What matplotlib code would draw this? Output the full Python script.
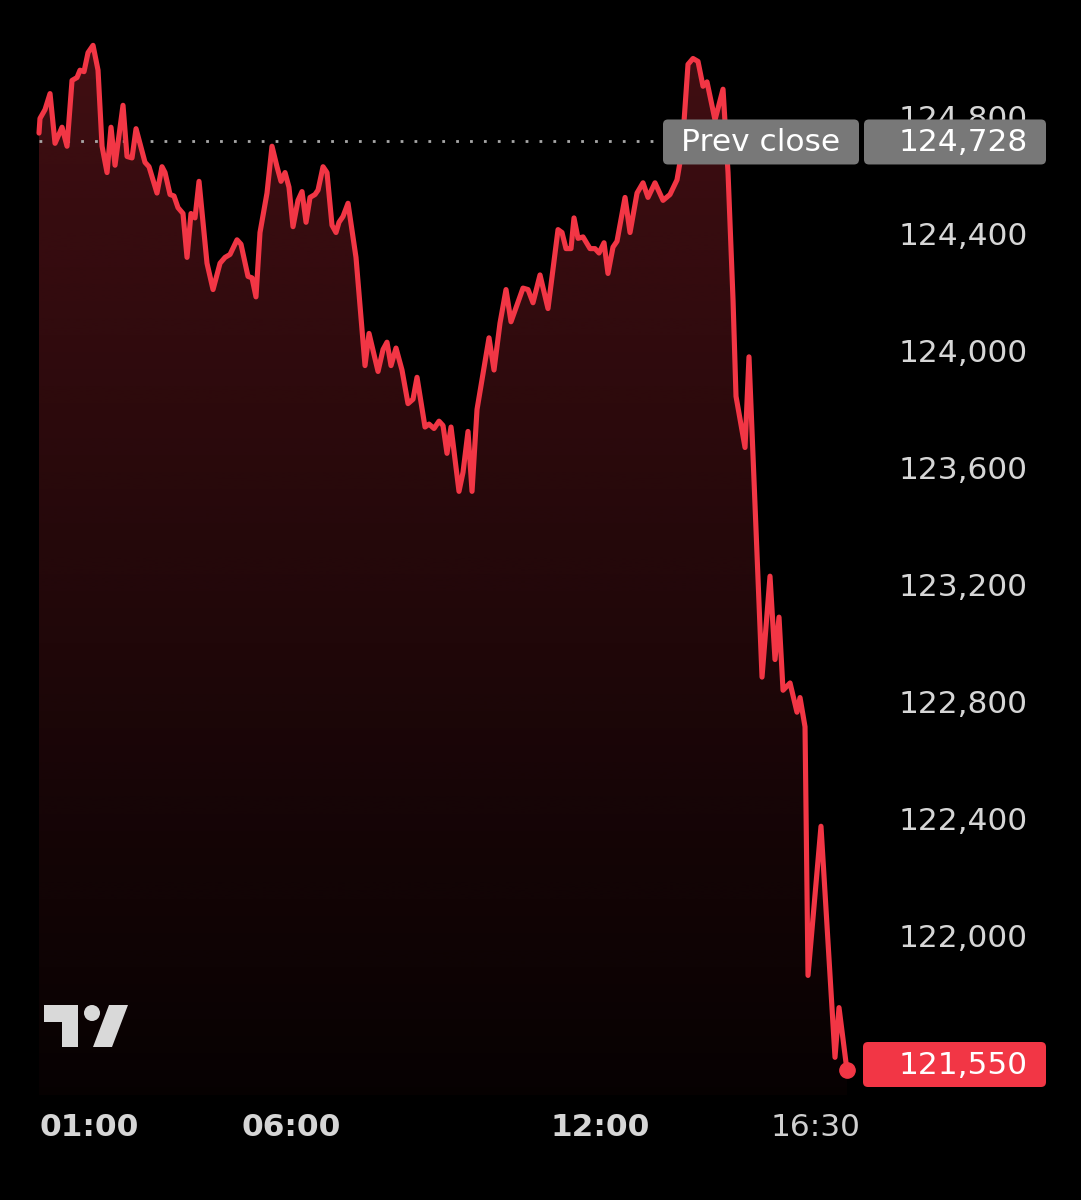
import numpy as np
import matplotlib.pyplot as plt
from matplotlib.patches import FancyBboxPatch, Polygon, Circle
from matplotlib.transforms import ScaledTranslation, blended_transform_factory

# intraday series (time in hours, price)
hours = [1.107, 1.126, 1.223, 1.321, 1.418, 1.554, 1.651, 1.748, 1.845, 1.903,
         1.981, 2.059, 2.156, 2.253, 2.331, 2.428, 2.505, 2.583, 2.738, 2.816,
         2.913, 2.991, 3.165, 3.243, 3.398, 3.495, 3.554, 3.651, 3.728, 3.806,
         3.903, 3.981, 4.058, 4.136, 4.214, 4.369, 4.486, 4.622, 4.719, 4.816,
         4.952, 5.029, 5.165, 5.243, 5.320, 5.398, 5.534, 5.631, 5.728, 5.806,
         5.884, 5.961, 6.039, 6.136, 6.214, 6.292, 6.369, 6.466, 6.525, 6.622,
         6.699, 6.796, 6.874, 6.932, 7.010, 7.107, 7.262, 7.437, 7.515, 7.690,
         7.787, 7.864, 7.942, 8.039, 8.155, 8.272, 8.369, 8.447, 8.602, 8.680,
         8.777, 8.874, 8.952, 9.029, 9.107, 9.262, 9.340, 9.437, 9.515, 9.612,
         9.845, 9.942, 10.058, 10.175, 10.272, 10.505, 10.602, 10.699, 10.835, 10.990,
         11.185, 11.262, 11.340, 11.437, 11.495, 11.573, 11.670, 11.806, 11.903, 11.981,
         12.078, 12.155, 12.252, 12.330, 12.486, 12.583, 12.719, 12.835, 12.932, 13.068,
         13.224, 13.359, 13.495, 13.592, 13.709, 13.806, 13.903, 14.000, 14.078, 14.233,
         14.389, 14.486, 14.583, 14.641, 14.816, 14.893, 15.146, 15.301, 15.398, 15.476,
         15.554, 15.690, 15.825, 15.884, 15.981, 16.039, 16.291, 16.563, 16.641, 16.796]
prices = [124755, 124805, 124835, 124890, 124720, 124775, 124710, 124935, 124945, 124970,
          124965, 125030, 125055, 124970, 124710, 124620, 124775, 124645, 124850, 124675,
          124670, 124770, 124655, 124640, 124550, 124640, 124620, 124545, 124540, 124500,
          124480, 124330, 124480, 124465, 124590, 124310, 124220, 124310, 124330, 124340,
          124390, 124375, 124265, 124260, 124195, 124415, 124550, 124710, 124640, 124590,
          124620, 124570, 124435, 124525, 124555, 124450, 124535, 124545, 124560, 124640,
          124620, 124440, 124415, 124450, 124470, 124515, 124330, 123960, 124070, 123940,
          124015, 124040, 123960, 124020, 123945, 123830, 123845, 123920, 123750, 123760,
          123745, 123770, 123755, 123660, 123750, 123530, 123595, 123735, 123530, 123810,
          124055, 123945, 124105, 124220, 124110, 124225, 124220, 124175, 124270, 124155,
          124425, 124415, 124360, 124360, 124465, 124395, 124400, 124360, 124360, 124345,
          124380, 124275, 124365, 124385, 124535, 124415, 124550, 124585, 124535, 124585,
          124525, 124545, 124595, 124695, 124990, 125010, 125000, 124915, 124930, 124800,
          124905, 124620, 124185, 123855, 123680, 123990, 122895, 123240, 122955, 123100,
          122850, 122875, 122775, 122825, 122725, 121875, 122385, 121595, 121765, 121550]

prev_close = 124728
last_price = 121550
price_ticks = [124800, 124400, 124000, 123600, 123200, 122800, 122400, 122000]
time_ticks = [1.0, 6.0, 12.0, 16.5]
time_labels = ["01:00", "06:00", "12:00", "16:30"]
time_bold = [True, True, True, False]

W, H = 1081, 1200
Y_TOP, UNITS_PER_PX = 125210, 3.419
X0, PX_PER_HOUR = 0.3495, 51.5
PANE_BOTTOM_PX = 1095

RED = "#F23645"
LABEL_GRAY = "#d6d6d6"
BOX_GRAY = "#787878"
FONT = ["DejaVu Sans"]
FS = 22.5


def price_to_px(p):
    return (Y_TOP - p) / UNITS_PER_PX


def hour_from_px(px):
    return X0 + px / PX_PER_HOUR


fig = plt.figure(figsize=(W / 100, H / 100), dpi=100, facecolor="black")
ax = fig.add_axes([0, 0, 1, 1])
ax.set_facecolor("black")
ax.set_xlim(X0, X0 + W / PX_PER_HOUR)
ax.set_ylim(Y_TOP - H * UNITS_PER_PX, Y_TOP)
ax.axis("off")

# gradient fill under the line
base = Y_TOP - PANE_BOTTOM_PX * UNITS_PER_PX
verts = list(zip(hours, prices)) + [(hours[-1], base), (hours[0], base)]
poly = Polygon(verts, closed=True, facecolor="none", edgecolor="none")
ax.add_patch(poly)
grad = np.zeros((256, 1, 4))
grad[:, 0, 0] = 242 / 255
grad[:, 0, 1] = 54 / 255
grad[:, 0, 2] = 69 / 255
grad[:, 0, 3] = np.linspace(0.03, 0.27, 256)
img = ax.imshow(grad, extent=[hours[0], hours[-1], base, max(prices)],
                origin="lower", aspect="auto", zorder=1, interpolation="bilinear")
img.set_clip_path(poly)

# previous close dotted line
box_left_px = 663
ax.plot([hours[0], hour_from_px(box_left_px)], [prev_close, prev_close],
        color="#a8a8a8", lw=2.0, linestyle=(0, (1, 4)), zorder=2)

ax.plot(hours, prices, color=RED, lw=3.7, solid_joinstyle="round",
        solid_capstyle="round", zorder=3)
ax.plot(hours[-1], prices[-1], "o", ms=11, color=RED, zorder=4)

# price scale labels
ytrans = blended_transform_factory(ax.transAxes, ax.transData)
for p in price_ticks:
    ax.text(1028 / W, p, f"{p:,}", transform=ytrans, ha="right", va="center",
            fontsize=FS, color=LABEL_GRAY, family=FONT, zorder=2)

# time labels
label_y = Y_TOP - 1128 * UNITS_PER_PX
label_dx = [6, 0, 0, -16]
for t, lab, bold, dx in zip(time_ticks, time_labels, time_bold, label_dx):
    off = ScaledTranslation(dx / 100, 0, fig.dpi_scale_trans)
    ax.text(t, label_y, lab, ha="left" if t == time_ticks[0] else "center",
            va="center", fontsize=FS, color=LABEL_GRAY if bold else "#cfcfcf",
            fontweight="bold" if bold else "normal", family=FONT,
            transform=ax.transData + off)

# overlay in pixel coordinates for boxes and logo
deco = fig.add_axes([0, 0, 1, 1], zorder=5)
deco.set_xlim(0, W)
deco.set_ylim(H, 0)
deco.axis("off")
deco.patch.set_visible(False)

pc_y = price_to_px(prev_close) + 1
for x0, x1 in [(663, 859), (864, 1046)]:
    deco.add_patch(FancyBboxPatch((x0, pc_y - 22.5), x1 - x0, 45,
                                  boxstyle="round,pad=0,rounding_size=5",
                                  facecolor=BOX_GRAY, edgecolor="none"))
deco.text(761, pc_y + 1, "Prev close", ha="center", va="center",
          fontsize=FS, color="white", family=FONT)
deco.text(1028, pc_y + 1, f"{prev_close:,}", ha="right", va="center",
          fontsize=FS, color="white", family=FONT)

lp_y = min(price_to_px(last_price), PANE_BOTTOM_PX - 8 - 22.5)
deco.add_patch(FancyBboxPatch((863, lp_y - 22.5), 183, 45,
                              boxstyle="round,pad=0,rounding_size=5",
                              facecolor=RED, edgecolor="none"))
deco.text(1028, lp_y + 1, f"{last_price:,}", ha="right", va="center",
          fontsize=FS, color="white", family=FONT)

# TradingView logo
logo_c = "#d9d9d9"
deco.add_patch(Polygon([(44, 1005), (78, 1005), (78, 1047), (62, 1047), (62, 1022), (44, 1022)],
                       closed=True, facecolor=logo_c, edgecolor="none"))
deco.add_patch(Circle((92, 1013), 8, facecolor=logo_c, edgecolor="none"))
deco.add_patch(Polygon([(109, 1005), (128, 1005), (112, 1047), (93, 1047)],
                       closed=True, facecolor=logo_c, edgecolor="none"))

fig.savefig("out.png", dpi=100, facecolor="black")
